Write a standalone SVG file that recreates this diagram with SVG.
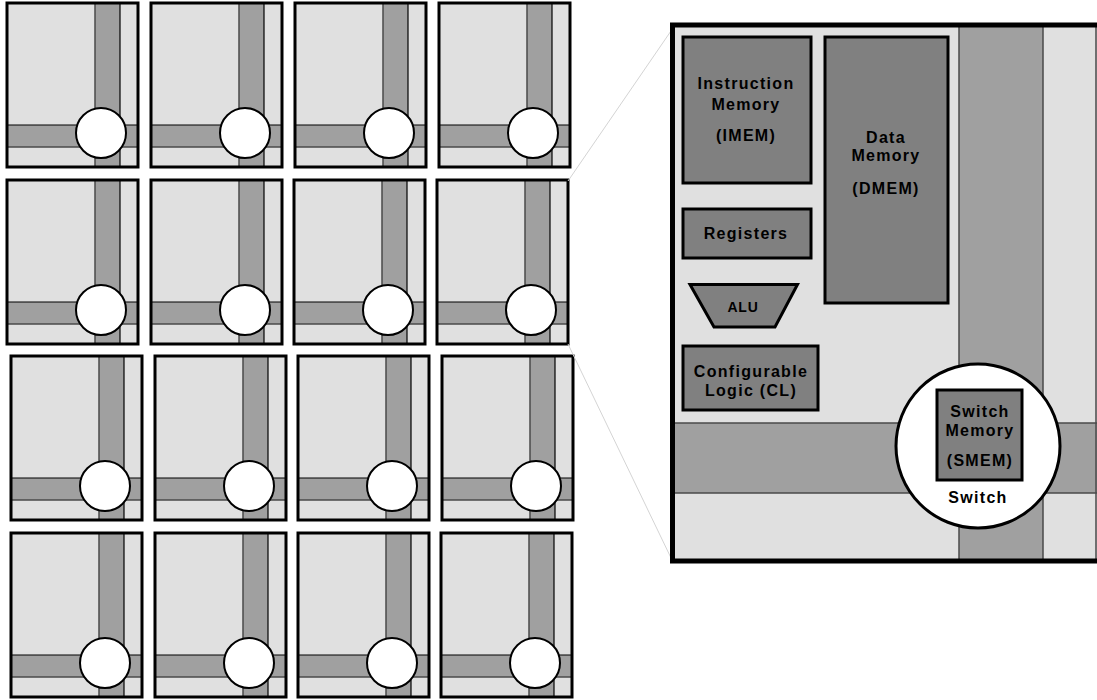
<svg xmlns="http://www.w3.org/2000/svg" xmlns:xlink="http://www.w3.org/1999/xlink" width="1097" height="700" viewBox="0 0 1097 700">
<style>
.bg{fill:#e0e0e0}
.bar{fill:#a0a0a0}
.edge{stroke:#4a4a4a;stroke-width:1.5;fill:none}
.edgek{stroke:#000;stroke-width:1.2;fill:none}
.border{fill:none;stroke:#000;stroke-width:3}
.sw{fill:#fff;stroke:#000;stroke-width:2}
.mod{fill:#808080;stroke:#000;stroke-width:3}
.zoomline{stroke:#d4d4d4;stroke-width:1;fill:none}
text{font-family:"Liberation Sans",Arial,sans-serif;font-weight:bold;font-size:16px;letter-spacing:1.3px;text-anchor:middle;fill:#000}
.small{font-size:14px;letter-spacing:0.8px}
</style>
<defs>
<g id="tile">
<rect class="bg" x="0" y="0" width="131" height="164"/>
<rect class="bar" x="88" y="0" width="25" height="164"/>
<rect class="bar" x="0" y="122" width="131" height="22"/>
<line class="edge" x1="88" y1="0" x2="88" y2="164"/>
<line class="edgek" x1="113" y1="0" x2="113" y2="164"/>
<line class="edgek" x1="0" y1="122" x2="131" y2="122"/>
<line class="edge" x1="0" y1="144" x2="131" y2="144"/>
<circle class="sw" cx="94" cy="130" r="25"/>
<rect class="border" x="0" y="0" width="131" height="164"/>
</g>
</defs>

<g id="tiles">
<g id="tile-r1c1"><use xlink:href="#tile" transform="translate(7,3)"/></g>
<g id="tile-r1c2"><use xlink:href="#tile" transform="translate(151,3)"/></g>
<g id="tile-r1c3"><use xlink:href="#tile" transform="translate(295,3)"/></g>
<g id="tile-r1c4"><use xlink:href="#tile" transform="translate(439,3)"/></g>
<g id="tile-r2c1"><use xlink:href="#tile" transform="translate(7,180)"/></g>
<g id="tile-r2c2"><use xlink:href="#tile" transform="translate(151,180)"/></g>
<g id="tile-r2c3"><use xlink:href="#tile" transform="translate(294,180)"/></g>
<g id="tile-r2c4"><use xlink:href="#tile" transform="translate(437,180)"/></g>
<g id="tile-r3c1"><use xlink:href="#tile" transform="translate(11,356)"/></g>
<g id="tile-r3c2"><use xlink:href="#tile" transform="translate(155,356)"/></g>
<g id="tile-r3c3"><use xlink:href="#tile" transform="translate(298,356)"/></g>
<g id="tile-r3c4"><use xlink:href="#tile" transform="translate(442,356)"/></g>
<g id="tile-r4c1"><use xlink:href="#tile" transform="translate(11,533)"/></g>
<g id="tile-r4c2"><use xlink:href="#tile" transform="translate(155,533)"/></g>
<g id="tile-r4c3"><use xlink:href="#tile" transform="translate(298,533)"/></g>
<g id="tile-r4c4"><use xlink:href="#tile" transform="translate(441,533)"/></g>
</g>

<g id="connectors">
<line class="zoomline" x1="568" y1="181" x2="673" y2="28"/>
<line class="zoomline" x1="568" y1="344" x2="672" y2="560"/>
</g>

<g id="tile-detail">
<rect class="bg" x="672" y="25" width="430" height="536"/>
<rect class="bar" x="672" y="423" width="430" height="70"/>
<rect class="bar" x="959" y="25" width="84" height="536"/>
<line class="edge" x1="959" y1="25" x2="959" y2="561"/>
<line class="edge" x1="1043" y1="25" x2="1043" y2="561"/>
<line class="edge" x1="672" y1="423" x2="1097" y2="423"/>
<line class="edge" x1="672" y1="493" x2="1097" y2="493"/>
<line class="edge" x1="1096" y1="25" x2="1096" y2="561"/>
<rect x="672.5" y="25" width="440" height="536" fill="none" stroke="#000" stroke-width="5"/>
</g>

<g id="imem">
<rect class="mod" x="683" y="37" width="128" height="146"/>
<text x="746" y="89">Instruction</text>
<text x="746" y="110">Memory</text>
<text x="746" y="141">(IMEM)</text>
</g>

<g id="dmem">
<rect class="mod" x="825" y="37" width="123" height="266"/>
<text x="886" y="143">Data</text>
<text x="886" y="161">Memory</text>
<text x="886" y="194">(DMEM)</text>
</g>

<g id="registers">
<rect class="mod" x="683" y="209" width="128" height="49"/>
<text x="746" y="239">Registers</text>
</g>

<g id="alu">
<polygon class="mod" points="690,284.5 797.5,284.5 775,327 714,327"/>
<text class="small" x="743" y="312">ALU</text>
</g>

<g id="cl">
<rect class="mod" x="683" y="346" width="135" height="64"/>
<text x="751" y="377">Configurable</text>
<text x="751" y="396">Logic (CL)</text>
</g>

<g id="switch">
<circle cx="978" cy="446" r="82" fill="#fff" stroke="#000" stroke-width="3"/>
<text x="978" y="503">Switch</text>
</g>

<g id="smem">
<rect class="mod" x="937" y="390" width="85" height="90"/>
<text x="980" y="417">Switch</text>
<text x="980" y="436">Memory</text>
<text x="980" y="466">(SMEM)</text>
</g>
</svg>
